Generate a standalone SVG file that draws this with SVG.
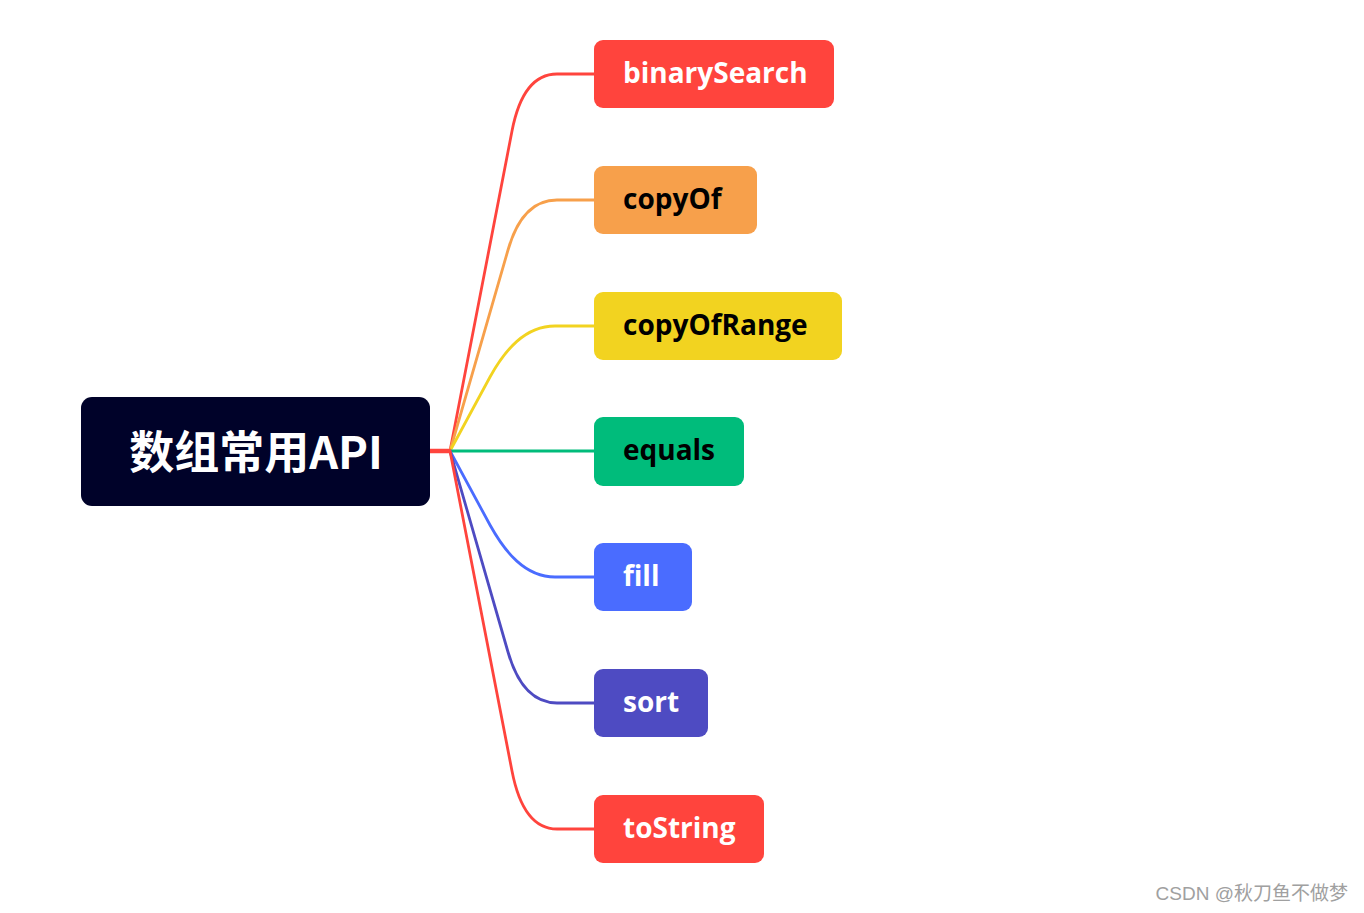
<svg xmlns="http://www.w3.org/2000/svg" width="1364" height="913" viewBox="0 0 1364 913">
<style>
.lbl{font-family:"Open Sans",Lato,"Liberation Sans",sans-serif;font-weight:700;font-size:28px}
.w{fill:#ffffff}
.b{fill:#000000}
.c{fill:none;stroke-width:2.8;stroke-linecap:round;stroke-linejoin:round}
</style>
<rect width="1364" height="913" fill="#ffffff"/>
<g id="connectors">
<path class="c" stroke="#FF443D" d="M450,451 L512,131 C518,100 530,74 557,74 L594,74"/>
<path class="c" stroke="#F7A04B" d="M450,451 L508,250 C516,222 530,200 557,200 L594,200"/>
<path class="c" stroke="#F2D320" d="M450,451 L490,377 C505,350 525,326 555,326 L594,326"/>
<path class="c" stroke="#00BC7B" d="M450,451 L594,451"/>
<path class="c" stroke="#4A6CFF" d="M450,451 L490,525 C505,552 525,577 555,577 L594,577"/>
<path class="c" stroke="#4E4BC2" d="M450,451 L508,652 C516,680 530,703 557,703 L594,703"/>
<path class="c" stroke="#FF443D" d="M450,451 L512,771 C518,802 530,829 557,829 L594,829"/>
<path d="M430,451 L451,451" stroke="#FF443D" stroke-width="4.5" fill="none"/>
</g>
<g id="root">
<rect x="81" y="397" width="349" height="109" rx="11" fill="#000229"/>
<text x="256" y="469" text-anchor="middle" fill="#ffffff" font-family="'Noto Sans CJK SC','Noto Sans',sans-serif" font-weight="700" font-size="45">数组常用API</text>
</g>
<g id="binarySearch">
<rect x="594" y="40" width="240" height="68" rx="9" fill="#FF443D"/>
<text class="lbl w" x="623" y="83">binarySearch</text>
</g>
<g id="copyOf">
<rect x="594" y="166" width="163" height="68" rx="9" fill="#F7A04B"/>
<text class="lbl b" x="623" y="209">copyOf</text>
</g>
<g id="copyOfRange">
<rect x="594" y="292" width="248" height="68" rx="9" fill="#F2D320"/>
<text class="lbl b" x="623" y="335">copyOfRange</text>
</g>
<g id="equals">
<rect x="594" y="417" width="150" height="69" rx="9" fill="#00BC7B"/>
<text class="lbl b" x="623" y="460">equals</text>
</g>
<g id="fill">
<rect x="594" y="543" width="98" height="68" rx="9" fill="#4A6CFF"/>
<text class="lbl w" x="623" y="586">fill</text>
</g>
<g id="sort">
<rect x="594" y="669" width="114" height="68" rx="9" fill="#4E4BC2"/>
<text class="lbl w" x="623" y="712">sort</text>
</g>
<g id="toString">
<rect x="594" y="795" width="170" height="68" rx="9" fill="#FF443D"/>
<text class="lbl w" x="623" y="838">toString</text>
</g>
<text x="1348" y="900" text-anchor="end" fill="#A0A0A0" font-family="'Liberation Sans','Noto Sans CJK SC',sans-serif" font-size="19">CSDN @秋刀鱼不做梦</text>
</svg>
